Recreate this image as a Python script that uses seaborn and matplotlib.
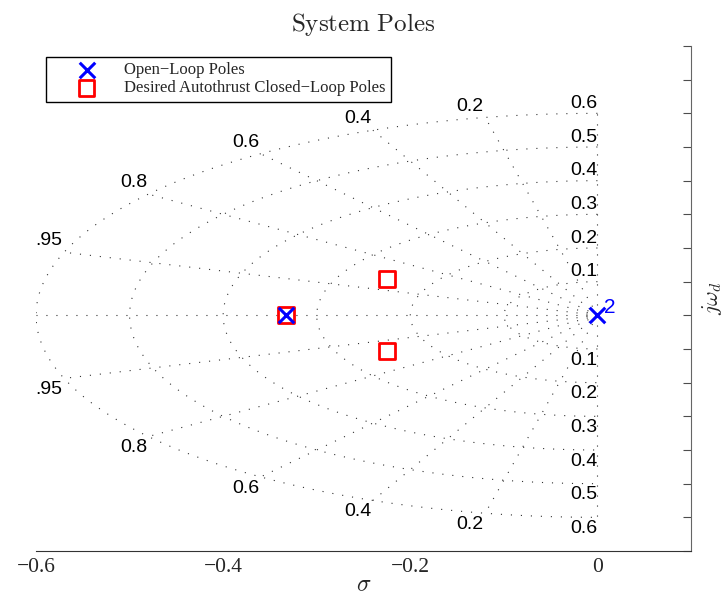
import numpy as np
import matplotlib
matplotlib.use("Agg")
import matplotlib.pyplot as plt
import seaborn as sns

# open-loop poles (double pole at the origin + one real pole)
ol_re = [0.0, -0.333]
ol_im = [0.0, 0.0]
ol_mult_label = "2"

# desired autothrust closed-loop poles
cl_re = [-0.333, -0.225, -0.225]
cl_im = [0.0, 0.107, -0.107]

# s-plane grid: damping ratios and natural frequencies
zetas = [0.0, 0.2, 0.4, 0.6, 0.8, 0.95, 1.0]
zeta_lab_vals = [0.2, 0.4, 0.6, 0.8, 0.95]
zeta_labels = ["0.2", "0.4", "0.6", "0.8", ".95"]
wns = [0.1, 0.2, 0.3, 0.4, 0.5, 0.6]
wn_labels = ["0.1", "0.2", "0.3", "0.4", "0.5", "0.6"]

sns.set_style("white")
plt.rcParams["mathtext.fontset"] = "cm"

fig = plt.figure(figsize=(7.28, 5.96), dpi=100)
ax = fig.add_axes([36 / 728, 45 / 596, 655 / 728, 505 / 596])

dot = dict(color="0.2", lw=0.8, ls=(0, (1, 8)), zorder=1)

# natural frequency semicircles (left half plane)
th = np.linspace(np.pi / 2, 3 * np.pi / 2, 300)
for wn in wns:
    ax.plot(wn * np.cos(th), wn * np.sin(th), **dot)

# constant damping rays
wmax = max(wns)
for z in zetas:
    xr = -z * wmax
    yr = np.sqrt(1 - z ** 2) * wmax
    ax.plot([0, xr], [0, yr], **dot)
    if z != 1.0:
        ax.plot([0, xr], [0, -yr], **dot)

lab_font = dict(family="Liberation Sans", fontsize=14, color="black")
for z, lab in zip(zeta_lab_vals, zeta_labels):
    xr = -z * wmax
    yr = np.sqrt(1 - z ** 2) * wmax
    ax.annotate(lab, (xr, yr), xytext=(-1, 2), textcoords="offset points",
                ha="right", va="bottom", **lab_font)
    ax.annotate(lab, (xr, -yr), xytext=(-1, -2), textcoords="offset points",
                ha="right", va="top", **lab_font)

for wn, lab in zip(wns, wn_labels):
    ax.annotate(lab, (0, wn), xytext=(0, 1), textcoords="offset points",
                ha="right", va="bottom", **lab_font)
    ax.annotate(lab, (0, -wn), xytext=(0, -2), textcoords="offset points",
                ha="right", va="top", **lab_font)

# poles
sns.scatterplot(x=cl_re, y=cl_im, marker="s", s=130, facecolors="none",
                edgecolor="red", linewidth=2, ax=ax, zorder=3)
sns.scatterplot(x=ol_re, y=ol_im, marker="x", s=125, color="blue",
                linewidth=2.2, ax=ax, zorder=4)
ax.annotate(ol_mult_label, (ol_re[0], ol_im[0]), xytext=(5, -1),
            textcoords="offset points", ha="left", va="bottom",
            color="blue", family="Liberation Sans", fontsize=15)

h_sq, h_x = ax.collections[0], ax.collections[1]
ax.legend([h_x, h_sq], ["Open\u2212Loop Poles", "Desired Autothrust Closed\u2212Loop Poles"],
          loc="upper left", bbox_to_anchor=(0.0148, 0.979), borderaxespad=0,
          prop={"family": "Liberation Serif", "size": 12}, fancybox=False,
          framealpha=1, edgecolor="black", borderpad=0.35, labelspacing=0.1,
          handlelength=4.2, handletextpad=0.15)
ax.get_legend().get_frame().set_linewidth(1)

ax.set_xlim(-0.6, 0.1)
ax.set_ylim(-0.7, 0.8)
ax.set_xticks([-0.6, -0.4, -0.2, 0])
ax.set_xticklabels(["\u22120.6", "\u22120.4", "\u22120.2", "0"],
                   family="Liberation Serif", fontsize=15.5)
ax.set_yticks(np.round(np.arange(-0.7, 0.81, 0.1), 1))
ax.yaxis.tick_right()
ax.tick_params(axis="y", direction="in", length=6, labelright=False, color="0.3")
ax.tick_params(axis="x", direction="in", length=6, color="0.2", pad=5)

for s in ["top", "left"]:
    ax.spines[s].set_visible(False)
ax.spines["right"].set_color("0.4")
ax.spines["bottom"].set_color("0.2")

ax.set_title(r"$\mathrm{System\ Poles}$", fontsize=18, pad=11)
ax.set_xlabel(r"$\sigma$", fontsize=17, va="center")
ax.xaxis.set_label_coords(0.5, -0.066)
ax.set_ylabel(r"$j\omega_d$", fontsize=16)
ax.yaxis.set_label_position("right")
ax.yaxis.set_label_coords(1.014, 0.5)

fig.savefig("out.png", dpi=100)
